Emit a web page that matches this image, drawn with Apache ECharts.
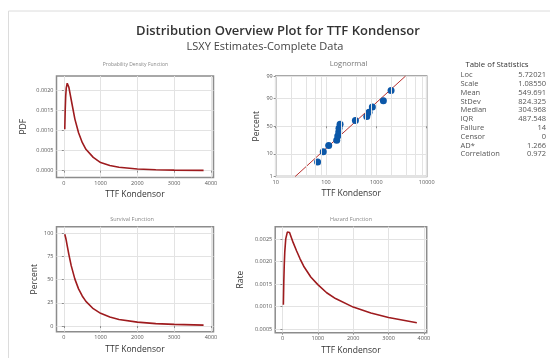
<!DOCTYPE html>
<html>
<head>
<meta charset="utf-8">
<script src="https://cdn.jsdelivr.net/npm/echarts@6/dist/echarts.min.js"></script>
<style>
html, body { margin: 0; padding: 0; background: #fff; }
#main { width: 550px; height: 358px; }
</style>
</head>
<body>
<div id="main"></div>
<script>
// fitted curves
var curveX = [25, 37, 50, 65, 92, 137, 200, 300, 400, 500, 600, 800, 1000, 1250, 1500, 2000, 2500, 3000, 3800];
var pdfY = [0.00103, 0.00150, 0.00184, 0.00205, 0.00217, 0.00207, 0.00176, 0.00128, 0.00094, 0.00070, 0.00053, 0.00033, 0.00020, 0.00013, 0.000085, 0.000042, 0.000023, 0.000014, 0.000007];
var survY = [99.0, 97.5, 95.2, 92.3, 86.5, 77.0, 65.1, 50.6, 40.1, 32.4, 26.6, 18.7, 13.7, 9.7, 7.1, 4.2, 2.6, 1.8, 1.0];
var hazY = [0.00104, 0.00155, 0.00193, 0.00222, 0.00251, 0.00266, 0.00265, 0.00243, 0.00224, 0.00206, 0.00190, 0.00166, 0.00149, 0.00131, 0.00118, 0.00099, 0.00086, 0.00076, 0.00064];

// probability plot points (time, percent) and fitted line ends
var failTimes = [68, 88, 113, 163, 171, 179, 181, 190, 383, 645, 716, 832, 1377, 1960];
var failPct = [4.86, 11.81, 18.75, 25.69, 32.64, 39.58, 46.53, 53.47, 60.42, 67.36, 74.31, 81.25, 88.19, 95.14];
var fitX = [24.4, 3810];
var fitPct = [1, 99];

// tick labels
var timeTicks = [0, 1000, 2000, 3000, 4000];
var pdfTicks = [0, 0.0005, 0.0010, 0.0015, 0.0020];
var survTicks = [0, 25, 50, 75, 100];
var hazTicks = [0.0005, 0.0010, 0.0015, 0.0020, 0.0025];
var probTicks = [1, 10, 50, 90, 99];
var logMinor = [20, 40, 60, 80, 200, 400, 600, 800, 2000, 4000, 6000, 8000];

var statLabels = ['Loc', 'Scale', 'Mean', 'StDev', 'Median', 'IQR', 'Failure', 'Censor', 'AD*', 'Correlation'];
var statValues = ['5.72021', '1.08550', '549.691', '824.325', '304.968', '487.548', '14', '0', '1.266', '0.972'];

// normal quantile (probability scale)
function probit(p) {
    var a = [-39.69683028665376, 220.9460984245205, -275.9285104469687, 138.3577518672690, -30.66479806614716, 2.506628277459239];
    var b = [-54.47609879822406, 161.5858368580409, -155.6989798598866, 66.80131188771972, -13.28068155288572];
    var c = [-0.007784894002430293, -0.3223964580411365, -2.400758277161838, -2.549732539343734, 4.374664141464968, 2.938163982698783];
    var d = [0.007784695709041462, 0.3224671290700398, 2.445134137142996, 3.754408661907416];
    var q, r;
    if (p < 0.02425) {
        q = Math.sqrt(-2 * Math.log(p));
        return (((((c[0]*q+c[1])*q+c[2])*q+c[3])*q+c[4])*q+c[5]) / ((((d[0]*q+d[1])*q+d[2])*q+d[3])*q+1);
    }
    if (p > 1 - 0.02425) {
        q = Math.sqrt(-2 * Math.log(1 - p));
        return -(((((c[0]*q+c[1])*q+c[2])*q+c[3])*q+c[4])*q+c[5]) / ((((d[0]*q+d[1])*q+d[2])*q+d[3])*q+1);
    }
    q = p - 0.5; r = q * q;
    return (((((a[0]*r+a[1])*r+a[2])*r+a[3])*r+a[4])*r+a[5])*q / (((((b[0]*r+b[1])*r+b[2])*r+b[3])*r+b[4])*r+1);
}

var zLo = probit(0.01), zHi = probit(0.99);
var probZ = probTicks.map(function (p) { return probit(p / 100); });

function zip(xs, ys) { return xs.map(function (x, i) { return [x, ys[i]]; }); }

var myChart = echarts.init(document.getElementById('main'));

var FONT = 'Open Sans';
var lineRed = '#9e1b1e';
var gridCol = '#e3e3e3';

function mkGrid(l, t, w, h) {
    return { left: l, top: t, width: w, height: h, show: true, borderColor: '#8c8c8c', borderWidth: 1.5, backgroundColor: 'transparent' };
}
function mkAxis(extra) {
    var ax = {
        axisLine: { show: false },
        axisTick: { show: true, length: 2, lineStyle: { color: '#8c8c8c' } },
        axisLabel: { fontSize: 5.5, color: '#555', margin: 3, fontFamily: FONT },
        splitLine: { show: true, lineStyle: { color: gridCol, width: 1 } },
        nameLocation: 'middle',
        nameTextStyle: { fontSize: 8.5, color: '#333', fontFamily: FONT }
    };
    for (var k in extra) {
        if (typeof extra[k] === 'object' && ax[k] && !Array.isArray(extra[k])) {
            ax[k] = Object.assign({}, ax[k], extra[k]);
        } else {
            ax[k] = extra[k];
        }
    }
    return ax;
}
function timeAxis(idx, min, max) {
    return mkAxis({
        gridIndex: idx, type: 'value', min: min, max: max,
        name: 'TTF Kondensor', nameGap: 13,
        axisTick: { customValues: timeTicks },
        axisLabel: { customValues: timeTicks, formatter: function (v) { return String(v); } }
    });
}

var graphics = [
    { type: 'line', shape: { x1: 8.5, y1: 11, x2: 550, y2: 11 }, style: { stroke: '#dcdcdc', lineWidth: 1 } },
    { type: 'line', shape: { x1: 8.5, y1: 11, x2: 8.5, y2: 358 }, style: { stroke: '#dcdcdc', lineWidth: 1 } },
    { type: 'text', x: 278, y: 31.5, style: { text: 'Distribution Overview Plot for TTF Kondensor', font: '600 13px "Open Sans"', fill: '#333', align: 'center', verticalAlign: 'middle' } },
    { type: 'text', x: 265, y: 46.7, style: { text: 'LSXY Estimates-Complete Data', font: '11px "Open Sans"', fill: '#444', align: 'center', verticalAlign: 'middle' } },
    { type: 'text', x: 135.5, y: 65, style: { text: 'Probability Density Function', font: '5px "Open Sans"', fill: '#888', align: 'center', verticalAlign: 'middle' } },
    { type: 'text', x: 348.5, y: 64, style: { text: 'Lognormal', font: '7.5px "Open Sans"', fill: '#777', align: 'center', verticalAlign: 'middle' } },
    { type: 'text', x: 132, y: 219, style: { text: 'Survival Function', font: '5.5px "Open Sans"', fill: '#888', align: 'center', verticalAlign: 'middle' } },
    { type: 'text', x: 351, y: 219, style: { text: 'Hazard Function', font: '5.5px "Open Sans"', fill: '#888', align: 'center', verticalAlign: 'middle' } },
    { type: 'text', x: 497, y: 65, style: { text: 'Table of Statistics', font: '7.8px "Open Sans"', fill: '#333', align: 'center', verticalAlign: 'middle' } }
];
statLabels.forEach(function (lab, i) {
    var y = 75 + i * 8.8;
    graphics.push({ type: 'text', x: 460.5, y: y, style: { text: lab, font: '7.5px "Open Sans"', fill: '#555', align: 'left', verticalAlign: 'middle' } });
    graphics.push({ type: 'text', x: 546, y: y, style: { text: statValues[i], font: '7.5px "Open Sans"', fill: '#555', align: 'right', verticalAlign: 'middle' } });
});

var option = {
    animation: false,
    backgroundColor: '#fff',
    graphic: graphics,
    grid: [
        mkGrid(56.5, 76, 157, 101.5),
        mkGrid(275.7, 76, 151, 100.5),
        mkGrid(56.5, 226.7, 157, 105),
        mkGrid(275.2, 226.7, 151.5, 106)
    ],
    xAxis: [
        timeAxis(0, -200, 4070),
        mkAxis({
            gridIndex: 1, type: 'log', logBase: 10, min: 10, max: 10000,
            name: 'TTF Kondensor', nameGap: 13,
            axisLabel: { formatter: function (v) { return String(Math.round(v)); } }
        }),
        timeAxis(2, -200, 4070),
        timeAxis(3, -206, 4079)
    ],
    yAxis: [
        mkAxis({
            gridIndex: 0, type: 'value', min: -0.00017, max: 0.00235,
            name: 'PDF', nameGap: 28,
            axisTick: { customValues: pdfTicks },
            axisLabel: { customValues: pdfTicks, formatter: function (v) { return v.toFixed(4); } }
        }),
        mkAxis({
            gridIndex: 1, type: 'value', min: zLo, max: zHi,
            name: 'Percent', nameGap: 15,
            axisTick: { customValues: probZ },
            axisLabel: {
                customValues: probZ,
                formatter: function (v) {
                    var best = 0;
                    probZ.forEach(function (z, i) { if (Math.abs(z - v) < Math.abs(probZ[best] - v)) best = i; });
                    return String(probTicks[best]);
                }
            }
        }),
        mkAxis({
            gridIndex: 2, type: 'value', min: -6.1, max: 107.1,
            name: 'Percent', nameGap: 17,
            axisTick: { customValues: survTicks },
            axisLabel: { customValues: survTicks }
        }),
        mkAxis({
            gridIndex: 3, type: 'value', min: 0.00042, max: 0.00278,
            name: 'Rate', nameGap: 30,
            axisTick: { customValues: hazTicks },
            axisLabel: { customValues: hazTicks, formatter: function (v) { return v.toFixed(4); } }
        })
    ],
    series: [
        {
            type: 'line', xAxisIndex: 0, yAxisIndex: 0, data: zip(curveX, pdfY),
            showSymbol: false, smooth: false, lineStyle: { color: lineRed, width: 1.6 }
        },
        {
            type: 'line', xAxisIndex: 1, yAxisIndex: 1,
            data: zip(fitX, fitPct.map(function (p) { return probit(p / 100); })),
            showSymbol: false, lineStyle: { color: '#b8312f', width: 1 },
            markLine: {
                silent: true, symbol: 'none', label: { show: false },
                lineStyle: { color: gridCol, width: 1, type: 'solid' },
                data: logMinor.map(function (v) { return { xAxis: v }; })
            },
            z: 3
        },
        {
            type: 'scatter', xAxisIndex: 1, yAxisIndex: 1,
            data: zip(failTimes, failPct.map(function (p) { return probit(p / 100); })),
            symbolSize: 7, itemStyle: { color: '#0b57a8', opacity: 1 }, z: 4
        },
        {
            type: 'line', xAxisIndex: 2, yAxisIndex: 2, data: zip(curveX, survY),
            showSymbol: false, lineStyle: { color: lineRed, width: 1.6 }
        },
        {
            type: 'line', xAxisIndex: 3, yAxisIndex: 3, data: zip(curveX, hazY),
            showSymbol: false, lineStyle: { color: lineRed, width: 1.6 }
        }
    ]
};
myChart.setOption(option);
</script>
</body>
</html>
